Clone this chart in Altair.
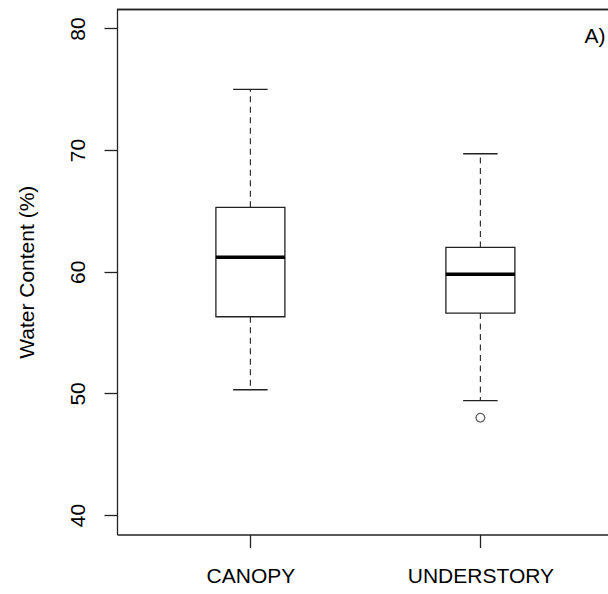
import altair as alt
import pandas as pd

# ---- data ----
groups = ["CANOPY", "UNDERSTORY"]
lower_whisker = [50.3, 49.4]
q1 = [56.3, 56.6]
median = [61.2, 59.8]
q3 = [65.3, 62.0]
upper_whisker = [75.0, 69.7]
outlier_group = ["UNDERSTORY"]
outlier_value = [48.0]
y_ticks = [40, 50, 60, 70, 80]
panel_label = "A)"

FONT = "Liberation Sans"
W, H = 491, 525.5
LW = 1.3
LC = "#222222"

box_df = pd.DataFrame({
    "group": groups,
    "pos": [groups.index(g) + 1 for g in groups],
    "lower": lower_whisker,
    "q1": q1,
    "median": median,
    "q3": q3,
    "upper": upper_whisker,
})
out_df = pd.DataFrame({
    "group": outlier_group,
    "pos": [groups.index(g) + 1 for g in outlier_group],
    "value": outlier_value,
})

xscale = alt.Scale(domain=[0.42, 0.42 + W / 230.0], nice=False, zero=False)
yscale = alt.Scale(domain=[38.4, 81.6], nice=False, zero=False)

label_expr = "[" + ",".join("'" + g + "'" for g in groups) + "][datum.value - 1]"

xaxis = alt.Axis(values=[1, 2], labelExpr=label_expr, title=None, grid=False,
                 tickSize=13, tickColor=LC, domainColor=LC,
                 tickWidth=LW, domainWidth=LW,
                 labelFont=FONT, labelFontSize=21, labelColor="black",
                 labelPadding=35, labelBaseline="alphabetic", labelAngle=0,
                 labelFlush=False, labelOverlap=False)
yaxis = alt.Axis(values=y_ticks, title="Water Content (%)", grid=False,
                 tickSize=13, tickColor=LC, domainColor=LC,
                 tickWidth=LW, domainWidth=LW,
                 labelFont=FONT, labelFontSize=21, labelColor="black",
                 labelAngle=270, labelAlign="center", labelBaseline="alphabetic",
                 labelPadding=20, labelFlush=False, labelOverlap=False,
                 titleFont=FONT, titleFontSize=21, titleFontWeight="normal",
                 titleColor="black", titleAngle=270, titleAlign="center",
                 titleBaseline="alphabetic", titleX=-84)


def X(f):
    return alt.X(f, type="quantitative", scale=xscale, axis=xaxis)


def Y(f):
    return alt.Y(f, type="quantitative", scale=yscale, axis=yaxis)


base = alt.Chart(box_df).transform_calculate(
    bx1="datum.pos - 0.15", bx2="datum.pos + 0.15",
    cx1="datum.pos - 0.075", cx2="datum.pos + 0.075",
)

dash = [6, 4.5]
upper_w = base.mark_rule(color="#333333", strokeWidth=1.2, strokeDash=dash).encode(
    x=X("pos"), y=Y("q3"), y2="upper")
lower_w = base.mark_rule(color="#333333", strokeWidth=1.2, strokeDash=dash).encode(
    x=X("pos"), y=Y("q1"), y2="lower")
cap_u = base.mark_rule(color=LC, strokeWidth=LW).encode(
    x=X("cx1"), x2="cx2", y=Y("upper"))
cap_l = base.mark_rule(color=LC, strokeWidth=LW).encode(
    x=X("cx1"), x2="cx2", y=Y("lower"))
box = base.mark_rect(fill="white", stroke=LC, strokeWidth=LW).encode(
    x=X("bx1"), x2="bx2", y=Y("q1"), y2="q3")
med = base.mark_rule(color="black", strokeWidth=3.5).encode(
    x=X("bx1"), x2="bx2", y=Y("median"))
outl = alt.Chart(out_df).mark_point(shape="circle", filled=False, size=75,
                                    color=LC, strokeWidth=LW).encode(
    x=X("pos"), y=Y("value"))

top = alt.Chart(box_df).mark_rule(color=LC, strokeWidth=LW).encode(
    x=alt.value(0), x2=alt.value(W + 2), y=alt.value(0.5))

label = alt.Chart(pd.DataFrame({"t": [panel_label]})).mark_text(
    font=FONT, fontSize=21, color="black", align="center", baseline="alphabetic"
).encode(x=alt.value(478), y=alt.value(34), text="t:N")

chart = alt.layer(upper_w, lower_w, cap_u, cap_l, box, med, outl, top, label).properties(
    width=W, height=H,
    autosize=alt.AutoSizeParams(type="none"),
    padding={"left": 117, "top": 9, "right": 0, "bottom": 594 - 9 - H},
    background="white",
).configure_view(stroke=None)

chart.save("out.html", embed_options={"renderer": "svg", "actions": False})
